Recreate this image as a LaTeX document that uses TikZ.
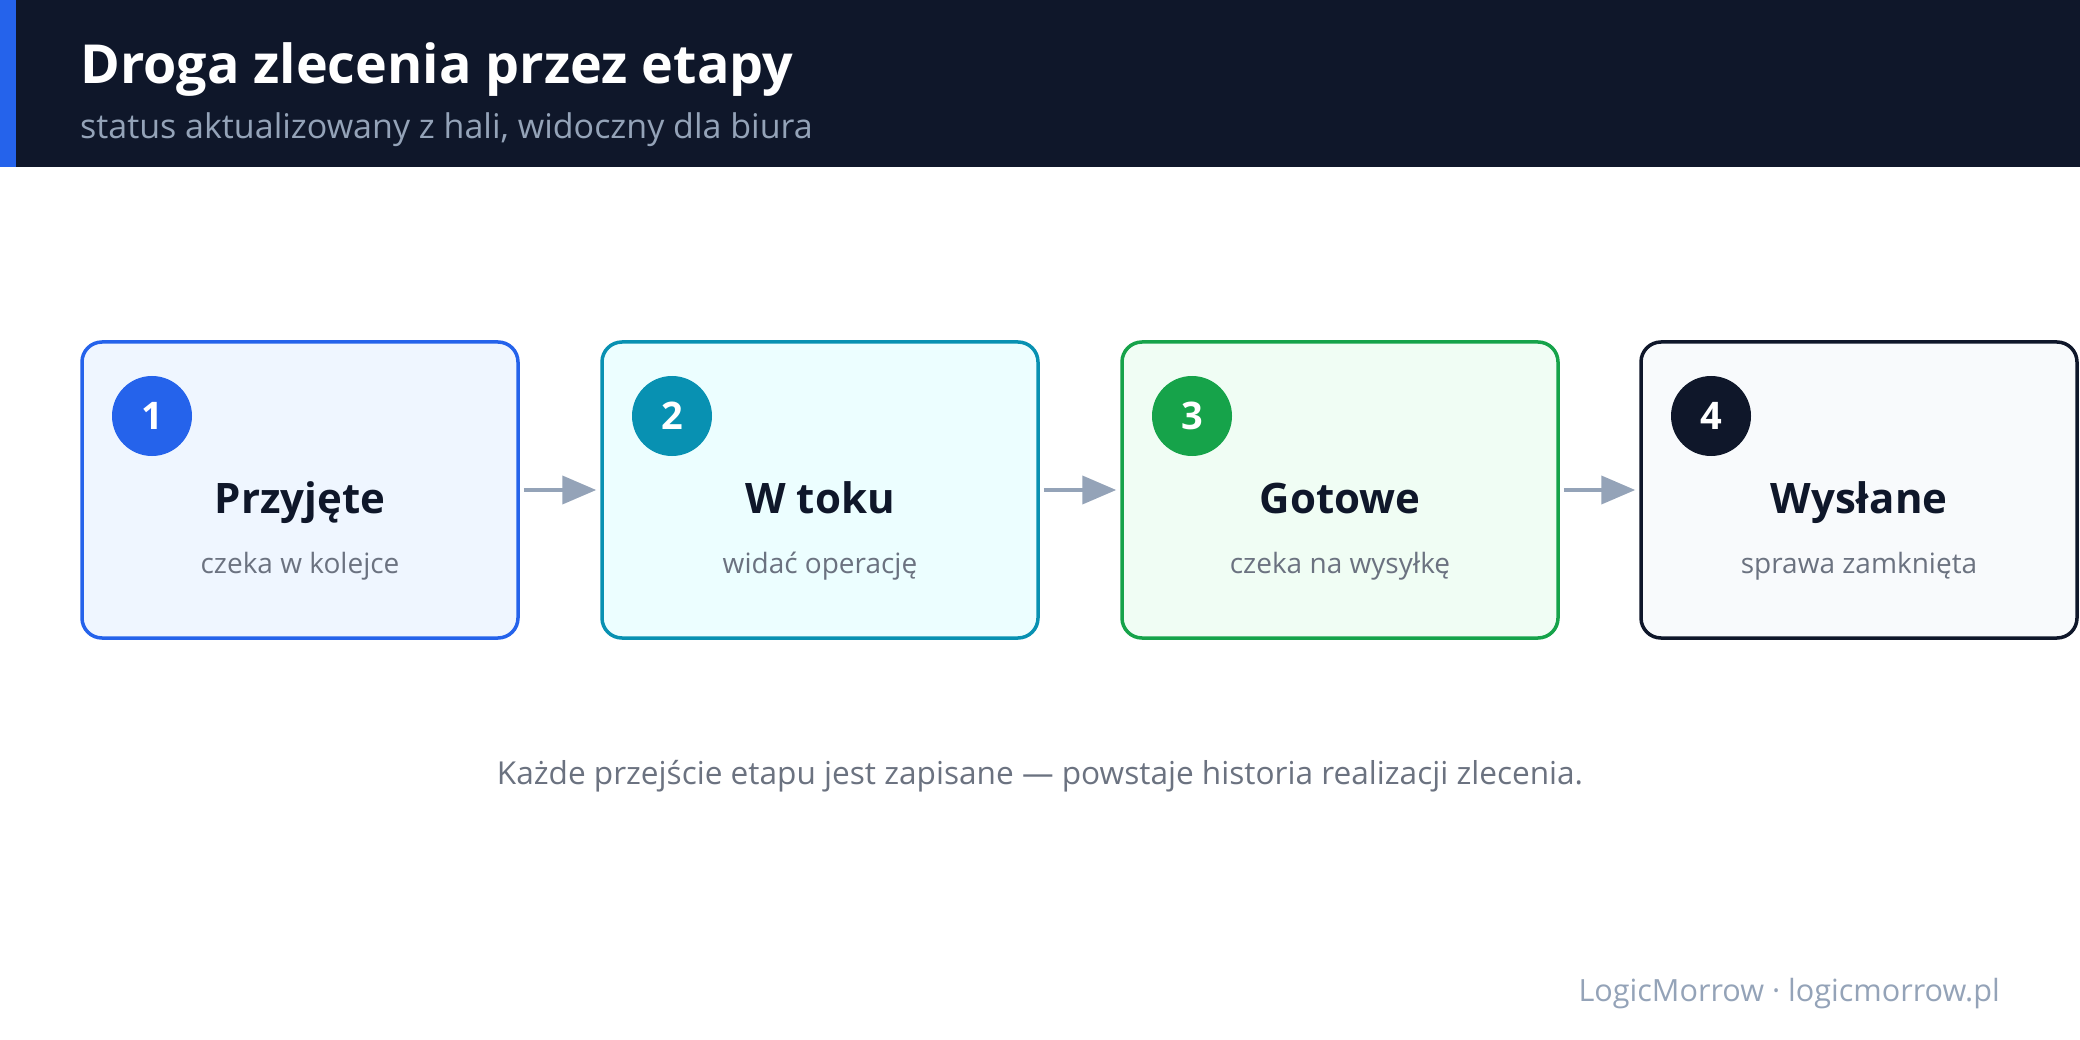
\documentclass[tikz,border=0pt]{standalone}
\usepackage{fontspec}
\setmainfont{Open Sans}
\usetikzlibrary{arrows.meta}
\definecolor{hdr}{HTML}{0F172A}
\definecolor{accent}{HTML}{2563EB}
\definecolor{hsub}{HTML}{94A3B8}
\definecolor{muted}{HTML}{6B7280}
\definecolor{cA}{HTML}{2563EB}\definecolor{fA}{HTML}{EFF6FF}
\definecolor{cB}{HTML}{0891B2}\definecolor{fB}{HTML}{ECFEFF}
\definecolor{cC}{HTML}{16A34A}\definecolor{fC}{HTML}{F0FDF4}
\definecolor{cD}{HTML}{0F172A}\definecolor{fD}{HTML}{F8FAFC}
\definecolor{arr}{HTML}{94A3B8}
\tikzset{
  stagebox/.style={rectangle, rounded corners=20pt, line width=3.5pt, minimum width=436pt, minimum height=296pt, inner sep=0pt},
  numdot/.style={circle, minimum size=80pt, inner sep=0pt, text=white, font=\fontsize{38}{44}\selectfont\bfseries},
  stitle/.style={anchor=base, text=hdr, font=\fontsize{42}{50}\selectfont\bfseries},
  ssub/.style={anchor=base, text=muted, font=\fontsize{28}{34}\selectfont},
  flow/.style={draw=arr, line width=4pt, -{Triangle[length=34pt,width=28pt]}, shorten <=4pt, shorten >=4pt}
}
\begin{document}
\begin{tikzpicture}[x=1pt,y=-1pt]
\useasboundingbox (0,0) rectangle (2080,1040);
\fill[white] (0,0) rectangle (2080,1040);
\fill[hdr] (0,0) rectangle (2080,167);
\fill[accent] (0,0) rectangle (16,167);
\node[anchor=base west, text=white, inner sep=0pt, font=\fontsize{53.8}{62}\selectfont\bfseries] (title) at (80,84) {Droga zlecenia przez etapy};
\node[anchor=base west, text=hsub, inner sep=0pt, font=\fontsize{34}{40}\selectfont] (subtitle) at (80,139) {status aktualizowany z hali, widoczny dla biura};

% stage 1
\node[stagebox, draw=cA, fill=fA] (b1) at (300,490) {};
\node[numdot, fill=cA] (n1) at (152,416) {1};
\node[stitle] (t1) at (300,513) {Przyjęte};
\node[ssub] (s1) at (300,573) {czeka w kolejce};
% stage 2
\node[stagebox, draw=cB, fill=fB] (b2) at (820,490) {};
\node[numdot, fill=cB] (n2) at (672,416) {2};
\node[stitle] (t2) at (820,513) {W toku};
\node[ssub] (s2) at (820,573) {widać operację};
% stage 3
\node[stagebox, draw=cC, fill=fC] (b3) at (1340,490) {};
\node[numdot, fill=cC] (n3) at (1192,416) {3};
\node[stitle] (t3) at (1340,513) {Gotowe};
\node[ssub] (s3) at (1340,573) {czeka na wysyłkę};
% stage 4
\node[stagebox, draw=cD, fill=fD] (b4) at (1859,490) {};
\node[numdot, fill=cD] (n4) at (1711,416) {4};
\node[stitle] (t4) at (1859,513) {Wysłane};
\node[ssub] (s4) at (1859,573) {sprawa zamknięta};

\draw[flow] (b1.east) -- (b2.west);
\draw[flow] (b2.east) -- (b3.west);
\draw[flow] (b3.east) -- (b4.west);

\node[anchor=base, text=muted, inner sep=0pt, font=\fontsize{31.6}{38}\selectfont] (note) at (1040,784) {Każde przejście etapu jest zapisane — powstaje historia realizacji zlecenia.};
\node[anchor=base east, text=hsub, inner sep=0pt, font=\fontsize{30.6}{36}\selectfont] (footer) at (2000,1001) {LogicMorrow · logicmorrow.pl};
\end{tikzpicture}
\end{document}
